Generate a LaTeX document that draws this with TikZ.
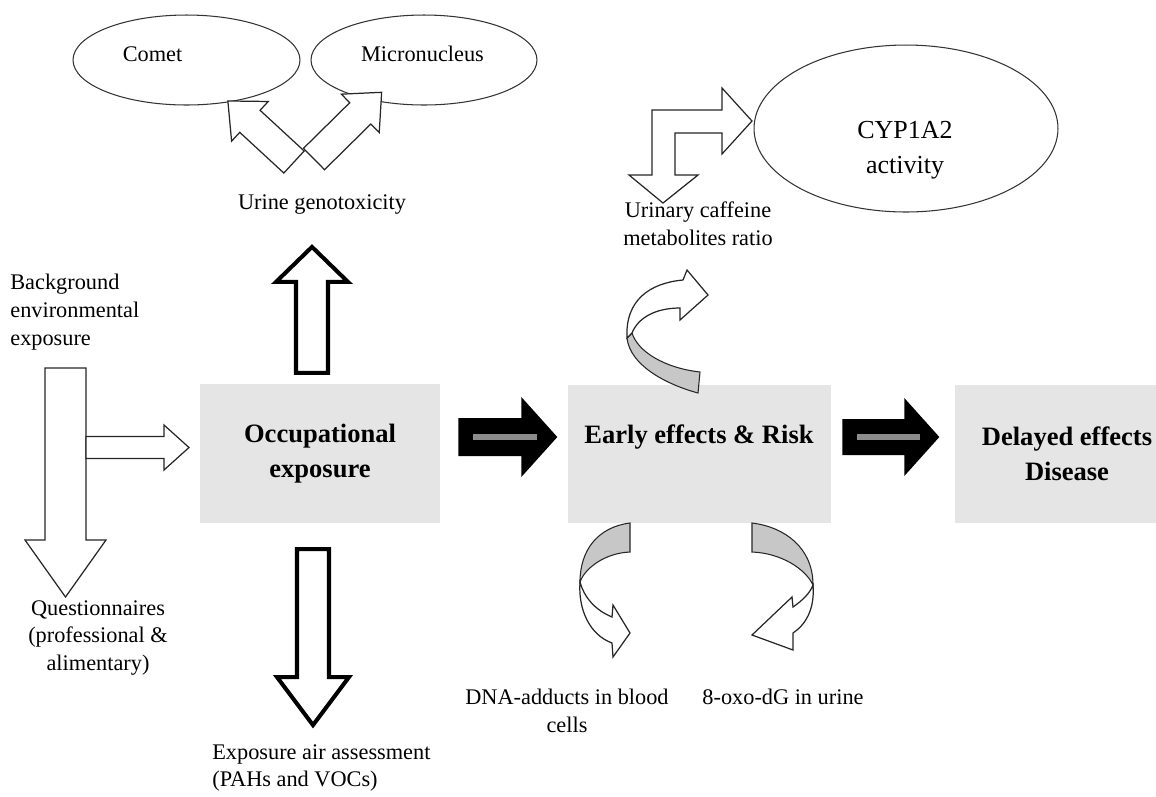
\documentclass[tikz,border=0pt]{standalone}
\usepackage{fontspec}
\setmainfont{Liberation Serif}
\usetikzlibrary{positioning,shapes.geometric}

\begin{document}
\begin{tikzpicture}[x=0.02cm, y=-0.02cm]
        \tikzset{box/.style= {rectangle, fill=gray!20, minimum height=2.77cm, inner sep=0pt},
                 txt/.style= {inner sep=0pt, align=center, font=\fontsize{12.7}{15.9}\selectfont},
                 boldtxt/.style= {inner sep=0pt, align=center, font=\fontsize{15.1}{19.8}\selectfont\bfseries},
                 bigtxt/.style= {inner sep=0pt, align=center, font=\fontsize{14.8}{19.8}\selectfont},
                 oval/.style= {ellipse, draw=black!80, line width=0.6pt, inner sep=0pt},
                 hollow/.style= {draw=black!85, fill=white, line width=0.7pt},
                 heavy/.style= {draw=black, fill=white, line width=2.3pt},
                 darkarrow/.style= {fill=black},
                 bar/.style= {draw=black!45, line width=3.4pt},
                 band/.style= {draw=black!85, fill=black!22, line width=0.6pt},
                 pics/blockarrow/.style n args={4}{code={
                     \path[pic actions] (0,-#2) -- ({#1-#4},-#2) -- ({#1-#4},-#3) -- (#1,0)
                         -- ({#1-#4},#3) -- ({#1-#4},#2) -- (0,#2) -- cycle;
                 }},
        }
        \useasboundingbox (0,0) rectangle (1156,796);

        \node [box, boldtxt, minimum width=4.8cm] (occ) at (320,453.5) {Occupational\\exposure};
        \node [box, minimum width=5.26cm] (early) at (699.5,454) {};
        \node [boldtxt] (earlytext) at (699,437) {Early effects \& Risk};
        \node [box, boldtxt, minimum width=4.5cm] (delayed) at (1067,454) {Delayed effects\\Disease};

        \node [oval, minimum width=4.54cm, minimum height=1.8cm] (comet) at (186.5,60) {};
        \node [oval, minimum width=4.52cm, minimum height=1.8cm] (micro) at (424,60) {};
        \node [txt] (comettext) at (152.5,54) {Comet};
        \node [txt] (microtext) at (422.5,54) {Micronucleus};
        \pic [hollow, rotate=137.3] at (294,162) {blockarrow={90}{15}{27}{30}};
        \pic [hollow, rotate=44.6] at (314,159) {blockarrow={95}{15}{27}{30}};
        \node [txt] (genotox) at (322,205) {Urine genotoxicity};

        \node [coordinate, above left=0.22cm and 0.16cm of occ.north] (occup){};
        \node [coordinate, below left=0.52cm and 0.14cm of occ.south] (occdown){};
        \pic [heavy, rotate=90] at (occup) {blockarrow={126}{16}{36}{35}};
        \pic [heavy, rotate=-90] at (occdown) {blockarrow={176}{16}{36}{48}};
        \node [txt, align=left, anchor=west] (airassess) at (212,768) {Exposure air assessment\\(PAHs and VOCs)};

        \node [txt, align=left, anchor=west] (background) at (10,312) {Background\\environmental\\exposure};
        \pic [hollow, rotate=-90] at (65.5,368) {blockarrow={229}{20.5}{40.5}{57}};
        \pic [hollow] at (86,447.5) {blockarrow={103}{11}{22.5}{25}};
        \node [txt] (questionnaires) at (98,638) {Questionnaires\\(professional \&\\alimentary)};

        \node [coordinate, above right=0.33cm and 0.36cm of occ.east] (occout){};
        \node [coordinate, above right=0.34cm and 0.22cm of early.east] (earlyout){};
        \pic [darkarrow] at (occout) {blockarrow={99}{19}{40}{36}};
        \pic [darkarrow] at (earlyout) {blockarrow={97}{18}{39}{35}};
        \draw [bar] ([xshift=0.3cm]occout) -- ([xshift=1.58cm]occout);
        \draw [bar] ([xshift=0.3cm]earlyout) -- ([xshift=1.56cm]earlyout);

        \node [oval, minimum width=6.08cm, minimum height=3.34cm] (cyp) at (906,128.5) {};
        \node [bigtxt] (cyptext) at (905,150) {CYP1A2\\activity};
        \draw [hollow] (663,203) -- (698,175) -- (675,175) -- (675,133) -- (722,133) -- (722,154)
            -- (752,121) -- (722,88) -- (722,110) -- (652,110) -- (652,175) -- (629,175) -- cycle;
        \node [txt] (caffeine) at (698,224) {Urinary caffeine\\metabolites ratio};

        \draw [band] (698,393) .. controls (665,384) and (630,365) .. (627,338) -- (632,333)
            .. controls (638,352) and (665,368) .. (700,372) -- cycle;
        \draw [hollow] (627,338) .. controls (625,300) and (650,283) .. (683,280) -- (687,270) -- (708,295)
            -- (680,320) -- (680,308) .. controls (655,308) and (638,318) .. (632,333) -- cycle;

        \draw [band] (630,523) .. controls (598,527) and (580,550) .. (580,582)
            .. controls (585,568) and (605,553) .. (630,552) -- cycle;
        \draw [hollow] (580,582) .. controls (578,610) and (590,635) .. (612,643) -- (613,657) -- (630,633)
            -- (613,605) -- (612,617) .. controls (595,610) and (584,597) .. (580,582) -- cycle;
        \draw [band] (752,523) .. controls (785,527) and (813,548) .. (813,585)
            .. controls (805,568) and (780,553) .. (752,552) -- cycle;
        \draw [hollow] (813,585) .. controls (815,610) and (805,625) .. (793,633) -- (793,650) -- (752,635)
            -- (792,597) -- (793,607) .. controls (803,600) and (810,593) .. (813,585) -- cycle;

        \node [txt] (adducts) at (567,711) {DNA-adducts in blood\\cells};
        \node [txt] (oxo) at (783,697) {8-oxo-dG in urine};
\end{tikzpicture}
\end{document}
